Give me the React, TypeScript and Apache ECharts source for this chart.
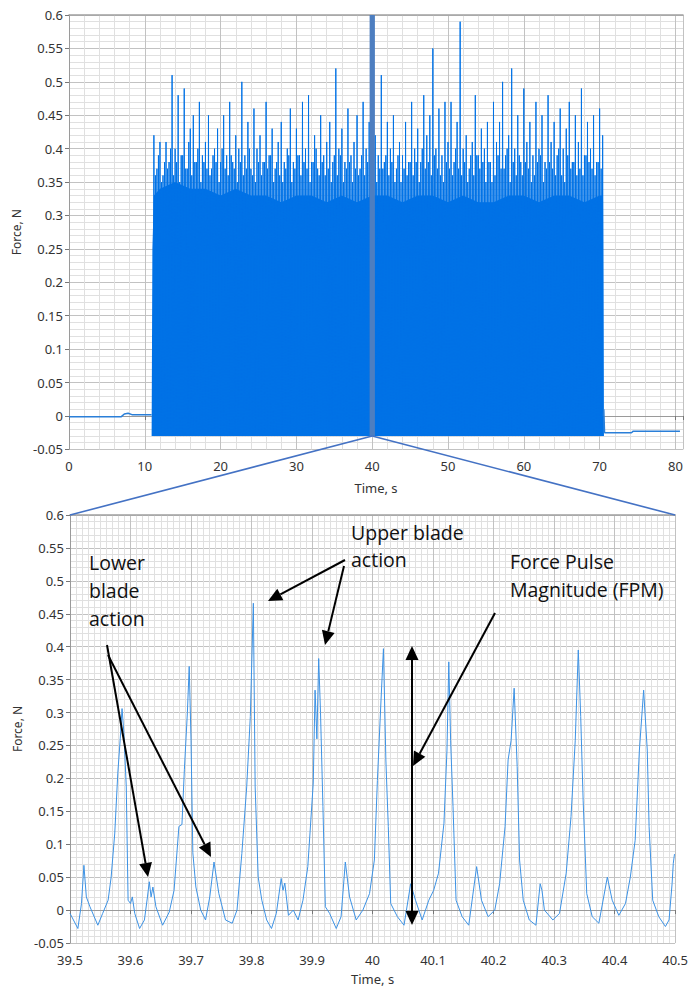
import React, { useEffect, useRef } from 'react';
import * as echarts from 'echarts';

const FONT = '"Noto Sans", "Open Sans", sans-serif';
const NOTE_FONT = '"Open Sans", "Noto Sans", sans-serif';

// ---------- Overview chart (0-80 s) ----------
const idleBeforeT = [0, 6.9, 7.3, 7.8, 8.3, 10.9];
const idleBeforeF = [-0.001, -0.001, 0.003, 0.004, 0.002, 0.002];
const idleAfterT = [70.5, 70.55, 70.65, 74.2, 74.4, 80.6];
const idleAfterF = [0.0, 0.01, -0.025, -0.025, -0.023, -0.023];

// solid body of the cutting signal (top of the dense block)
const coreT = [10.9, 11.0, 11.2, 12, 14, 16, 18, 20, 22, 24, 26, 28, 30, 32, 34, 36, 38, 40, 42, 44, 46, 48, 50, 52, 54, 56, 58, 60, 62, 64, 66, 68, 70, 70.45, 70.5];
const coreF = [-0.03, 0.25, 0.33, 0.34, 0.35, 0.34, 0.34, 0.33, 0.34, 0.33, 0.33, 0.32, 0.33, 0.33, 0.32, 0.33, 0.32, 0.33, 0.33, 0.32, 0.33, 0.33, 0.32, 0.33, 0.32, 0.32, 0.33, 0.33, 0.32, 0.33, 0.33, 0.32, 0.33, 0.33, -0.03];
const coreBase = -0.03;

// force pulses: a large one every 0.4 s from 11.2 s, a smaller one between each pair
const spikeStart = 11.2;
const spikeStep = 0.4;
const spikeTrough = -0.03;
const spikeF = [
  0.42, 0.37, 0.41, 0.36, 0.41,
  0.38, 0.51, 0.40, 0.48, 0.39,
  0.49, 0.37, 0.43, 0.45, 0.38,
  0.47, 0.39, 0.41, 0.45, 0.37,
  0.40, 0.43, 0.38, 0.45, 0.39,
  0.47, 0.38, 0.42, 0.40, 0.50,
  0.39, 0.44, 0.37, 0.46, 0.40,
  0.42, 0.38, 0.47, 0.39, 0.43,
  0.37, 0.41, 0.44, 0.38, 0.40,
  0.46, 0.38, 0.43, 0.39, 0.47,
  0.40, 0.48, 0.38, 0.42, 0.37,
  0.45, 0.39, 0.41, 0.44, 0.38,
  0.52, 0.40, 0.43, 0.38, 0.46,
  0.39, 0.41, 0.45, 0.37, 0.47,
  0.40, 0.44, 0.38, 0.42, 0.39,
  0.51, 0.38, 0.44, 0.40, 0.45,
  0.37, 0.41, 0.39, 0.44, 0.38,
  0.47, 0.40, 0.43, 0.38, 0.48,
  0.42, 0.45, 0.55, 0.40, 0.46,
  0.39, 0.47, 0.41, 0.47, 0.38,
  0.44, 0.59, 0.40, 0.42, 0.37,
  0.41, 0.48, 0.39, 0.43, 0.40,
  0.44, 0.38, 0.47, 0.41, 0.44,
  0.50, 0.39, 0.42, 0.52, 0.40,
  0.45, 0.38, 0.49, 0.41, 0.44,
  0.39, 0.47, 0.40, 0.45, 0.38,
  0.48, 0.41, 0.44, 0.39, 0.46,
  0.40, 0.43, 0.47, 0.38, 0.45,
  0.41, 0.49, 0.39, 0.44, 0.40,
  0.45, 0.38, 0.46, 0.42,
];
const spikeMidF = [
  0.36, 0.39, 0.35, 0.38, 0.37,
  0.40, 0.36, 0.38, 0.35, 0.39,
  0.37, 0.41, 0.36, 0.38, 0.40,
  0.35, 0.38, 0.37, 0.36, 0.39,
  0.38, 0.35, 0.40, 0.37, 0.36,
  0.39, 0.37, 0.35, 0.38, 0.36,
  0.37, 0.40, 0.36, 0.35, 0.38,
  0.36, 0.38, 0.37, 0.39, 0.35,
  0.38, 0.36, 0.35, 0.37, 0.39,
  0.35, 0.37, 0.39, 0.36, 0.38,
  0.37, 0.35, 0.38, 0.40, 0.36,
  0.38, 0.36, 0.37, 0.35, 0.39,
  0.36, 0.39, 0.35, 0.37, 0.38,
  0.35, 0.37, 0.36, 0.39, 0.36,
  0.38, 0.36, 0.40, 0.35, 0.37,
  0.37, 0.39, 0.36, 0.38, 0.35,
  0.39, 0.35, 0.37, 0.36, 0.38,
  0.36, 0.38, 0.35, 0.40, 0.37,
  0.38, 0.36, 0.39, 0.37, 0.36,
  0.35, 0.38, 0.37, 0.36, 0.40,
  0.37, 0.36, 0.38, 0.35, 0.39,
  0.36, 0.39, 0.37, 0.38, 0.35,
  0.38, 0.35, 0.36, 0.39, 0.37,
  0.37, 0.40, 0.35, 0.38, 0.36,
  0.39, 0.36, 0.38, 0.37, 0.35,
  0.36, 0.38, 0.39, 0.35, 0.37,
  0.38, 0.37, 0.36, 0.40, 0.36,
  0.35, 0.39, 0.37, 0.38, 0.36,
  0.37, 0.36, 0.39, 0.38, 0.37,
  0.36, 0.38, 0.37,
];

// ---------- Zoomed chart (39.5-40.5 s) ----------
const zoomTime = [
  39.500, 39.513, 39.519, 39.523, 39.527, 39.533, 39.546, 39.554, 39.563, 39.568,
  39.574, 39.579, 39.583, 39.586, 39.589, 39.593, 39.596, 39.600, 39.603, 39.607,
  39.615, 39.623, 39.628, 39.631, 39.634, 39.637, 39.642, 39.653, 39.664, 39.672,
  39.680, 39.685, 39.689, 39.694, 39.697, 39.700, 39.703, 39.708, 39.716, 39.724,
  39.731, 39.738, 39.746, 39.757, 39.768, 39.776, 39.784, 39.792, 39.798, 39.803,
  39.806, 39.811, 39.817, 39.825, 39.833, 39.841, 39.849, 39.852, 39.855, 39.861,
  39.869, 39.877, 39.885, 39.893, 39.902, 39.905, 39.908, 39.911, 39.914, 39.918,
  39.922, 39.929, 39.940, 39.948, 39.955, 39.962, 39.973, 39.984, 39.995, 40.003,
  40.008, 40.014, 40.018, 40.022, 40.026, 40.030, 40.041, 40.052, 40.063, 40.071,
  40.082, 40.093, 40.101, 40.109, 40.118, 40.123, 40.126, 40.129, 40.133, 40.138,
  40.148, 40.159, 40.172, 40.180, 40.191, 40.202, 40.210, 40.219, 40.224, 40.229,
  40.234, 40.239, 40.243, 40.249, 40.259, 40.270, 40.277, 40.280, 40.284, 40.298,
  40.309, 40.320, 40.328, 40.335, 40.340, 40.344, 40.348, 40.354, 40.363, 40.374,
  40.388, 40.396, 40.407, 40.418, 40.426, 40.434, 40.441, 40.448, 40.454, 40.457,
  40.463, 40.473, 40.484, 40.490, 40.495, 40.497, 40.499,
];
const zoomForce = [
  -0.005, -0.028, 0.010, 0.068, 0.020, 0.005, -0.023, -0.005, 0.015, 0.050,
  0.117, 0.208, 0.260, 0.306, 0.270, 0.187, 0.015, 0.010, 0.020, -0.005,
  -0.028, -0.015, 0.020, 0.043, 0.020, 0.035, 0.005, -0.023, -0.003, 0.030,
  0.127, 0.130, 0.213, 0.300, 0.370, 0.258, 0.087, 0.035, 0.000, -0.015,
  0.020, 0.073, 0.025, -0.015, -0.020, 0.000, 0.086, 0.187, 0.294, 0.466,
  0.187, 0.050, 0.015, -0.015, -0.028, -0.005, 0.048, 0.030, 0.041, -0.008,
  0.000, -0.015, 0.015, 0.066, 0.193, 0.334, 0.260, 0.382, 0.300, 0.157,
  0.005, -0.005, -0.028, -0.010, 0.073, 0.020, -0.015, 0.000, 0.025, 0.076,
  0.197, 0.319, 0.397, 0.228, 0.127, 0.010, -0.010, -0.023, 0.040, 0.015,
  -0.015, 0.015, 0.030, 0.056, 0.132, 0.243, 0.377, 0.258, 0.157, 0.015,
  -0.010, -0.023, 0.066, 0.015, -0.010, 0.000, 0.040, 0.127, 0.228, 0.258,
  0.337, 0.218, 0.076, 0.015, -0.015, -0.023, 0.040, 0.030, 0.000, -0.015,
  -0.005, 0.056, 0.142, 0.258, 0.395, 0.294, 0.167, 0.025, -0.010, -0.020,
  0.050, 0.015, -0.008, 0.010, 0.050, 0.106, 0.243, 0.334, 0.243, 0.127,
  0.015, -0.010, -0.025, -0.015, 0.040, 0.071, 0.085,
];

const pairs = (xs: number[], ys: number[]) => xs.map((x, i) => [x, ys[i]]);

const yLabel = (v: number) => String(Math.round(v * 100) / 100);

function arrowHead(x1: number, y1: number, x2: number, y2: number) {
  const dx = x2 - x1, dy = y2 - y1;
  const L = Math.hypot(dx, dy);
  const ux = dx / L, uy = dy / L;
  const head = 14, half = 6.5;
  const bx = x2 - ux * head, by = y2 - uy * head;
  const px = -uy, py = ux;
  return {
    base: [bx, by],
    poly: {
      type: 'polygon', z: 100,
      shape: { points: [[x2, y2], [bx + px * half, by + py * half], [bx - px * half, by - py * half]] },
      style: { fill: '#000' },
    },
  };
}

function arrow(x1: number, y1: number, x2: number, y2: number) {
  const h = arrowHead(x1, y1, x2, y2);
  return [
    { type: 'line', z: 100, shape: { x1, y1, x2: h.base[0], y2: h.base[1] }, style: { stroke: '#000', lineWidth: 2 } },
    h.poly,
  ];
}

function doubleArrow(x1: number, y1: number, x2: number, y2: number) {
  const a = arrowHead(x1, y1, x2, y2);
  const b = arrowHead(x2, y2, x1, y1);
  return [
    { type: 'line', z: 100, shape: { x1: b.base[0], y1: b.base[1], x2: a.base[0], y2: a.base[1] }, style: { stroke: '#000', lineWidth: 2 } },
    a.poly, b.poly,
  ];
}

export default function App() {
  const ref = useRef<HTMLDivElement>(null);

  useEffect(() => {
    document.body.style.margin = '0';
    const chart = echarts.init(ref.current!, undefined, { renderer: 'svg' });

    // zig-zag: trough, large pulse, trough, small pulse, ...
    const spikeData: number[][] = [];
    const q = spikeStep / 4;
    spikeF.forEach((f, i) => {
      const t = spikeStart + i * spikeStep;
      spikeData.push([t - q, spikeTrough]);
      spikeData.push([t, f]);
      if (i < spikeMidF.length) {
        spikeData.push([t + q, spikeTrough]);
        spikeData.push([t + 2 * q, spikeMidF[i]]);
      }
    });
    spikeData.push([spikeStart + (spikeF.length - 1) * spikeStep + q, spikeTrough]);

    const labelStyle = { color: '#333', fontSize: 13, fontFamily: FONT };
    const nameStyle = { color: '#333', fontSize: 13, fontFamily: FONT };
    const majorLine = { show: true, lineStyle: { color: '#c2c2c2', width: 1 } };
    const minorLine = { show: true, lineStyle: { color: '#e0e0e0', width: 1 } };
    const axisLine = { show: true, lineStyle: { color: '#9a9a9a', width: 1 } };
    const tick = { show: true, length: 4, lineStyle: { color: '#777' } };

    const blue = '#0072e6';

    chart.setOption({
      animation: false,
      backgroundColor: '#fff',
      grid: [
        { left: 69, right: 8, top: 15, bottom: 537.6 },
        { left: 70, right: 11, top: 515, bottom: 44 },
      ],
      xAxis: [
        {
          gridIndex: 0, type: 'value', min: 0, max: 81, interval: 10,
          name: 'Time, s', nameLocation: 'middle', nameGap: 32, nameTextStyle: nameStyle,
          axisLabel: { ...labelStyle, margin: 10, formatter: (v: number) => (Math.abs(v % 10) < 1e-9 ? String(v) : '') },
          axisLine, axisTick: tick,
          splitLine: majorLine,
          minorTick: { show: false, splitNumber: 5 },
          minorSplitLine: minorLine,
        },
        {
          gridIndex: 1, type: 'value', min: 39.5, max: 40.5, interval: 0.1,
          name: 'Time, s', nameLocation: 'middle', nameGap: 29, nameTextStyle: nameStyle,
          axisLabel: { ...labelStyle, margin: 10, formatter: (v: number) => String(Math.round(v * 10) / 10) },
          axisLine, axisTick: tick,
          splitLine: majorLine,
          minorTick: { show: false, splitNumber: 10 },
          minorSplitLine: minorLine,
        },
        {
          gridIndex: 0, type: 'value', position: 'top', min: 0, max: 81,
          axisLine: { show: true, lineStyle: { color: '#a0a0a0', width: 1.5 } },
          axisTick: { show: false }, axisLabel: { show: false }, splitLine: { show: false },
        },
        {
          gridIndex: 1, type: 'value', position: 'top', min: 39.5, max: 40.5,
          axisLine: { show: true, lineStyle: { color: '#a0a0a0', width: 1.5 } },
          axisTick: { show: false }, axisLabel: { show: false }, splitLine: { show: false },
        },
      ],
      yAxis: [
        {
          gridIndex: 0, type: 'value', min: -0.05, max: 0.6, interval: 0.05,
          name: 'Force, N', nameLocation: 'middle', nameGap: 46, nameRotate: 90,
          nameTextStyle: { ...nameStyle, fontSize: 12 },
          axisLabel: { ...labelStyle, margin: 6, formatter: yLabel },
          axisLine, axisTick: tick,
          splitLine: majorLine,
          minorTick: { show: false, splitNumber: 5 },
          minorSplitLine: minorLine,
        },
        {
          gridIndex: 1, type: 'value', min: -0.05, max: 0.6, interval: 0.05,
          name: 'Force, N', nameLocation: 'middle', nameGap: 46, nameRotate: 90,
          nameTextStyle: { ...nameStyle, fontSize: 12 },
          axisLabel: { ...labelStyle, margin: 6, formatter: yLabel },
          axisLine, axisTick: tick,
          splitLine: majorLine,
          minorTick: { show: false, splitNumber: 5 },
          minorSplitLine: minorLine,
        },
      ],
      series: [
        {
          name: 'body', type: 'line', xAxisIndex: 0, yAxisIndex: 0,
          data: pairs(coreT, coreF), showSymbol: false, symbol: 'none',
          lineStyle: { width: 0, color: blue },
          areaStyle: { color: blue, opacity: 1, origin: coreBase },
          z: 3,
        },
        {
          name: 'pulses', type: 'line', xAxisIndex: 0, yAxisIndex: 0,
          data: spikeData, showSymbol: false, symbol: 'none',
          lineStyle: { width: 1, color: blue },
          z: 4,
        },
        {
          name: 'before', type: 'line', xAxisIndex: 0, yAxisIndex: 0,
          data: pairs(idleBeforeT, idleBeforeF), showSymbol: false, symbol: 'none',
          lineStyle: { width: 1.5, color: '#2a7fd8' }, z: 4,
        },
        {
          name: 'after', type: 'line', xAxisIndex: 0, yAxisIndex: 0,
          data: pairs(idleAfterT, idleAfterF), showSymbol: false, symbol: 'none',
          lineStyle: { width: 1.5, color: '#2a7fd8' }, z: 4,
        },
        {
          name: 'zoom', type: 'line', xAxisIndex: 1, yAxisIndex: 1,
          data: pairs(zoomTime, zoomForce), showSymbol: false, symbol: 'none',
          lineStyle: { width: 1, color: '#3d92e4' }, z: 4,
        },
      ],
    });

    const p = (seriesIndex: number, v: number[]) => chart.convertToPixel({ seriesIndex }, v) as number[];
    const barTop = p(0, [40, 0.6]);
    const barBot = p(0, [40, -0.03]);
    const zl = p(4, [39.5, 0.6]);
    const zr = p(4, [40.5, 0.6]);

    const note = (x: number, y: number, text: string, lh: number) => ({
      type: 'text', x, y, z: 100,
      style: { text, fill: '#111', fontSize: 19.5, fontFamily: NOTE_FONT, lineHeight: lh, verticalAlign: 'top', align: 'left' },
    });

    chart.setOption({
      graphic: [
        {
          type: 'rect', z: 100,
          shape: { x: barTop[0] - 2.6, y: barTop[1], width: 5.3, height: barBot[1] - barTop[1] },
          style: { fill: '#4d7ec0' },
        },
        { type: 'line', z: 100, shape: { x1: barBot[0], y1: barBot[1], x2: zl[0], y2: zl[1] }, style: { stroke: '#4472c4', lineWidth: 1.6 } },
        { type: 'line', z: 100, shape: { x1: barBot[0], y1: barBot[1], x2: zr[0], y2: zr[1] }, style: { stroke: '#4472c4', lineWidth: 1.6 } },
        note(89, 548, 'Lower\nblade\naction', 28),
        note(351, 519, 'Upper blade\naction', 27),
        note(510, 547, 'Force Pulse\nMagnitude (FPM)', 28),
        ...arrow(107, 645, 148, 877),
        ...arrow(108, 655, 211, 857),
        ...arrow(345, 560, 268, 601),
        ...arrow(344, 566, 325, 645),
        ...arrow(495, 613, 413, 766),
        ...doubleArrow(412, 646, 412, 925),
      ],
    });

    return () => chart.dispose();
  }, []);

  return <div ref={ref} style={{ width: 691, height: 987 }} />;
}
